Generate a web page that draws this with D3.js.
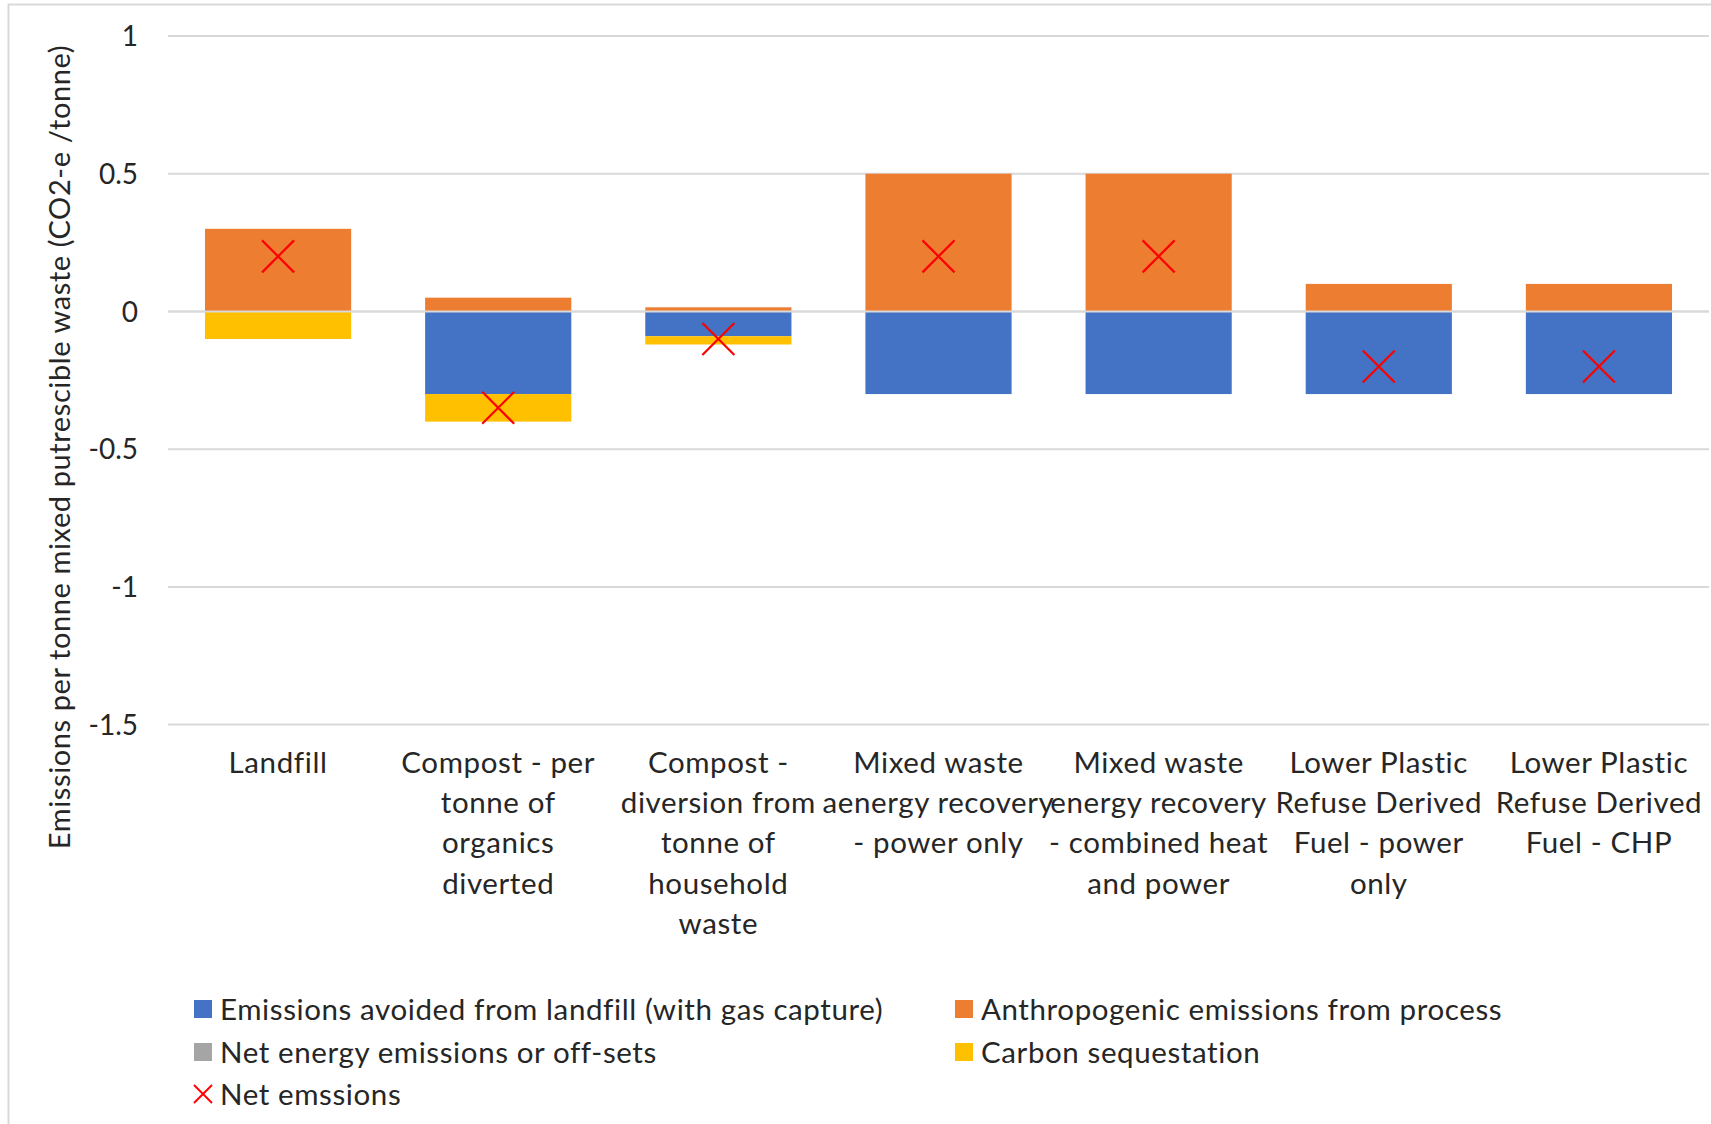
<!DOCTYPE html>
<html>
<head>
<meta charset="utf-8">
<script src="https://cdn.jsdelivr.net/npm/d3@7"></script>
<style>
  html, body { margin: 0; padding: 0; background: #fff; }
  svg { display: block; font-family: Lato, "Open Sans", sans-serif; }
</style>
</head>
<body>
<svg id="chart" width="1711" height="1124"></svg>
<script>
// Waste treatment options, each label split into its wrapped lines
const categories = [
  ["Landfill"],
  ["Compost - per", "tonne of", "organics", "diverted"],
  ["Compost -", "diversion from", "tonne of", "household", "waste"],
  ["Mixed waste", "aenergy recovery", "- power only"],
  ["Mixed waste", "energy recovery", "- combined heat", "and power"],
  ["Lower Plastic", "Refuse Derived", "Fuel - power", "only"],
  ["Lower Plastic", "Refuse Derived", "Fuel - CHP"]
];

// Stacked components (t CO2-e per tonne)
const avoidedLandfill = [0, -0.30, -0.09, -0.30, -0.30, -0.30, -0.30];
const anthropogenic   = [0.30, 0.05, 0.015, 0.50, 0.50, 0.10, 0.10];
const netEnergy       = [0, 0, 0, 0, 0, 0, 0];
const sequestration   = [-0.10, -0.10, -0.03, 0, 0, 0, 0];
const netEmissions    = [0.20, -0.35, -0.10, 0.20, 0.20, -0.20, -0.20];

const yTicks = [1, 0.5, 0, -0.5, -1, -1.5];
const yTickLabels = ["1", "0.5", "0", "-0.5", "-1", "-1.5"];

const seriesNames = [
  "Emissions avoided from landfill (with gas capture)",
  "Anthropogenic emissions from process",
  "Net energy emissions or off-sets",
  "Carbon sequestation",
  "Net emssions"
];
const colors = ["#4472C4", "#ED7D31", "#A5A5A5", "#FFC000", "#FF0000"];

const textColor = "#262626";
const labelSize = 29.5;
const labelSpacing = "0.6px";

const svg = d3.select("#chart");

// outer chart frame
svg.append("rect")
  .attr("x", 8.5).attr("y", 4.5)
  .attr("width", 1720).attr("height", 1140)
  .attr("fill", "none").attr("stroke", "#D9D9D9").attr("stroke-width", 2);

const x = d3.scaleBand()
  .domain(d3.range(categories.length))
  .range([168, 1709])
  .paddingInner(0.336)
  .paddingOuter(0.168);

const y = d3.scaleLinear().domain([-1.5, 1]).range([724.6, 36]);

// gridlines
svg.append("g")
  .selectAll("line")
  .data(yTicks)
  .join("line")
  .attr("x1", 168).attr("x2", 1709)
  .attr("y1", d => y(d)).attr("y2", d => y(d))
  .attr("stroke", "#D9D9D9").attr("stroke-width", 2);

// y tick labels
svg.append("g")
  .selectAll("text")
  .data(yTicks)
  .join("text")
  .attr("x", 138)
  .attr("y", d => y(d))
  .attr("dy", "0.36em")
  .attr("text-anchor", "end")
  .attr("font-size", 28)
  .attr("fill", textColor)
  .text((d, i) => yTickLabels[i]);

// y axis title
svg.append("text")
  .attr("transform", "translate(60,447) rotate(-90)")
  .attr("text-anchor", "middle")
  .attr("dy", "0.36em")
  .attr("font-size", 29)
  .attr("letter-spacing", labelSpacing)
  .attr("fill", textColor)
  .text("Emissions per tonne mixed putrescible waste (CO2-e /tonne)");

// stack components: negatives stack downward from zero, positives upward
const components = [avoidedLandfill, anthropogenic, netEnergy, sequestration];
const segments = [];
categories.forEach((c, i) => {
  let pos = 0, neg = 0;
  components.forEach((arr, s) => {
    const v = arr[i];
    if (v >= 0) {
      segments.push({ i, s, y0: pos, y1: pos + v });
      pos += v;
    } else {
      segments.push({ i, s, y0: neg + v, y1: neg });
      neg += v;
    }
  });
});

svg.append("g")
  .selectAll("rect")
  .data(segments.filter(d => d.y1 !== d.y0))
  .join("rect")
  .attr("x", d => x(d.i))
  .attr("width", x.bandwidth())
  .attr("y", d => y(d.y1))
  .attr("height", d => y(d.y0) - y(d.y1))
  .attr("fill", d => colors[d.s]);

// zero line redrawn over the bars
svg.append("line")
  .attr("x1", 168).attr("x2", 1709)
  .attr("y1", y(0)).attr("y2", y(0))
  .attr("stroke", "#D9D9D9").attr("stroke-width", 2);

// net emissions markers
const cross = (g, size) => {
  const h = size / 2;
  g.append("line").attr("x1", -h).attr("y1", -h).attr("x2", h).attr("y2", h);
  g.append("line").attr("x1", -h).attr("y1", h).attr("x2", h).attr("y2", -h);
};
svg.append("g")
  .selectAll("g")
  .data(netEmissions)
  .join("g")
  .attr("transform", (d, i) => `translate(${x(i) + x.bandwidth() / 2},${y(d)})`)
  .attr("stroke", colors[4])
  .attr("stroke-width", 2.2)
  .each(function () { cross(d3.select(this), 32); });

// category labels
const catG = svg.append("g")
  .selectAll("text")
  .data(categories)
  .join("text")
  .attr("x", (d, i) => x(i) + x.bandwidth() / 2)
  .attr("y", 762)
  .attr("text-anchor", "middle")
  .attr("font-size", labelSize)
  .attr("letter-spacing", labelSpacing)
  .attr("fill", textColor);
catG.selectAll("tspan")
  .data(d => d)
  .join("tspan")
  .attr("x", function () { return d3.select(this.parentNode).attr("x"); })
  .attr("dy", (d, j) => j === 0 ? "0.36em" : 40.4)
  .text(d => d);

// legend
const legendItems = [
  { k: 0, x: 194, y: 1009 },
  { k: 1, x: 955, y: 1009 },
  { k: 2, x: 194, y: 1052 },
  { k: 3, x: 955, y: 1052 },
  { k: 4, x: 194, y: 1094 }
];
const lg = svg.append("g")
  .selectAll("g")
  .data(legendItems)
  .join("g")
  .attr("transform", d => `translate(${d.x},${d.y})`);
lg.filter(d => d.k < 4)
  .append("rect")
  .attr("x", 0).attr("y", -9).attr("width", 18).attr("height", 18)
  .attr("fill", d => colors[d.k]);
lg.filter(d => d.k === 4)
  .append("g")
  .attr("transform", "translate(9,0)")
  .attr("stroke", colors[4]).attr("stroke-width", 2)
  .each(function () { cross(d3.select(this), 18); });
lg.append("text")
  .attr("x", 26)
  .attr("dy", "0.36em")
  .attr("font-size", labelSize)
  .attr("letter-spacing", labelSpacing)
  .attr("fill", textColor)
  .text(d => seriesNames[d.k]);
</script>
</body>
</html>
